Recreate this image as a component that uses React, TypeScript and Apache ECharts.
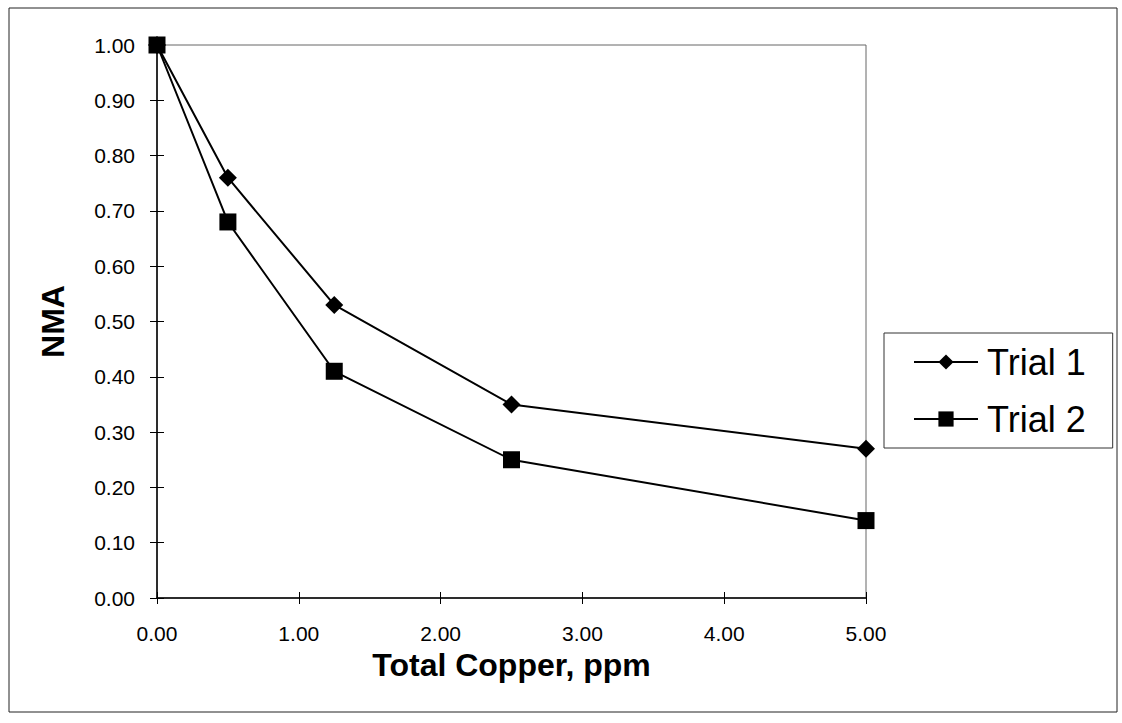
import React, { useEffect, useRef } from "react";
import * as echarts from "echarts";

const trial1: [number, number][] = [
  [0, 1.0],
  [0.5, 0.76],
  [1.25, 0.53],
  [2.5, 0.35],
  [5.0, 0.27],
];
const trial2: [number, number][] = [
  [0, 1.0],
  [0.5, 0.68],
  [1.25, 0.41],
  [2.5, 0.25],
  [5.0, 0.14],
];
const seriesNames = ["Trial 1", "Trial 2"];
const xName = "Total Copper, ppm";
const yName = "NMA";

const FONT = "'Liberation Sans', Arial, sans-serif";

export default function App() {
  const ref = useRef<HTMLDivElement>(null);
  useEffect(() => {
    if (!ref.current) return;
    const chart = echarts.init(ref.current, undefined, { renderer: "svg" });
    const fmt = (v: number) => v.toFixed(2);
    const baseX = { type: "value", min: 0, max: 5, interval: 1 };
    const baseY = { type: "value", min: 0, max: 1, interval: 0.1 };
    chart.setOption({
      animation: false,
      backgroundColor: "#ffffff",
      textStyle: { fontFamily: FONT, color: "#000" },
      grid: {
        left: 157,
        right: 256,
        top: 45,
        bottom: 125,
        show: true,
        borderColor: "#666",
        borderWidth: 1,
        backgroundColor: "transparent",
      },
      graphic: [
        {
          type: "rect",
          shape: { x: 9, y: 8, width: 1108, height: 704 },
          style: { fill: "none", stroke: "#222", lineWidth: 1 },
          silent: true,
        },
      ],
      legend: {
        data: seriesNames,
        orient: "vertical",
        left: 884,
        top: 333,
        itemWidth: 64,
        itemHeight: 19,
        itemGap: 21,
        padding: [11, 27, 11, 29],
        borderColor: "#333",
        borderWidth: 1,
        textStyle: { fontFamily: FONT, fontSize: 36, color: "#000", padding: [0, 0, 0, 4] },
      },
      xAxis: [
        {
          ...baseX,
          name: xName,
          nameLocation: "middle",
          nameGap: 46,
          nameTextStyle: { fontFamily: FONT, fontSize: 32, fontWeight: "bold", color: "#000" },
          axisLine: { show: true, onZero: false, lineStyle: { color: "#000", width: 1.5 } },
          axisTick: { show: true, inside: false, length: 6, lineStyle: { color: "#000" } },
          axisLabel: { formatter: fmt, fontFamily: FONT, fontSize: 21, color: "#000", margin: 25 },
          splitLine: { show: false },
        },
        {
          ...baseX,
          position: "bottom",
          axisLine: { show: false },
          axisTick: { show: true, inside: true, length: 6, lineStyle: { color: "#000" } },
          axisLabel: { show: false },
          splitLine: { show: false },
        },
      ],
      yAxis: [
        {
          ...baseY,
          name: yName,
          nameLocation: "middle",
          nameGap: 88,
          nameTextStyle: { fontFamily: FONT, fontSize: 32, fontWeight: "bold", color: "#000" },
          axisLine: { show: true, onZero: false, lineStyle: { color: "#000", width: 1.5 } },
          axisTick: { show: true, inside: false, length: 7, lineStyle: { color: "#000" } },
          axisLabel: { formatter: fmt, fontFamily: FONT, fontSize: 21, color: "#000", margin: 22 },
          splitLine: { show: false },
        },
        {
          ...baseY,
          position: "left",
          axisLine: { show: false },
          axisTick: { show: true, inside: true, length: 7, lineStyle: { color: "#000" } },
          axisLabel: { show: false },
          splitLine: { show: false },
        },
      ],
      series: [
        {
          name: seriesNames[0],
          type: "line",
          data: trial1,
          symbol: "diamond",
          symbolSize: 18,
          color: "#000",
          lineStyle: { color: "#000", width: 2 },
          itemStyle: { color: "#000" },
        },
        {
          name: seriesNames[1],
          type: "line",
          data: trial2,
          symbol: "rect",
          symbolSize: 17,
          color: "#000",
          lineStyle: { color: "#000", width: 2 },
          itemStyle: { color: "#000" },
        },
      ],
    });
    return () => chart.dispose();
  }, []);
  return (
    <div
      ref={ref}
      style={{ position: "absolute", left: 0, top: 0, width: 1122, height: 723, background: "#fff" }}
    />
  );
}
